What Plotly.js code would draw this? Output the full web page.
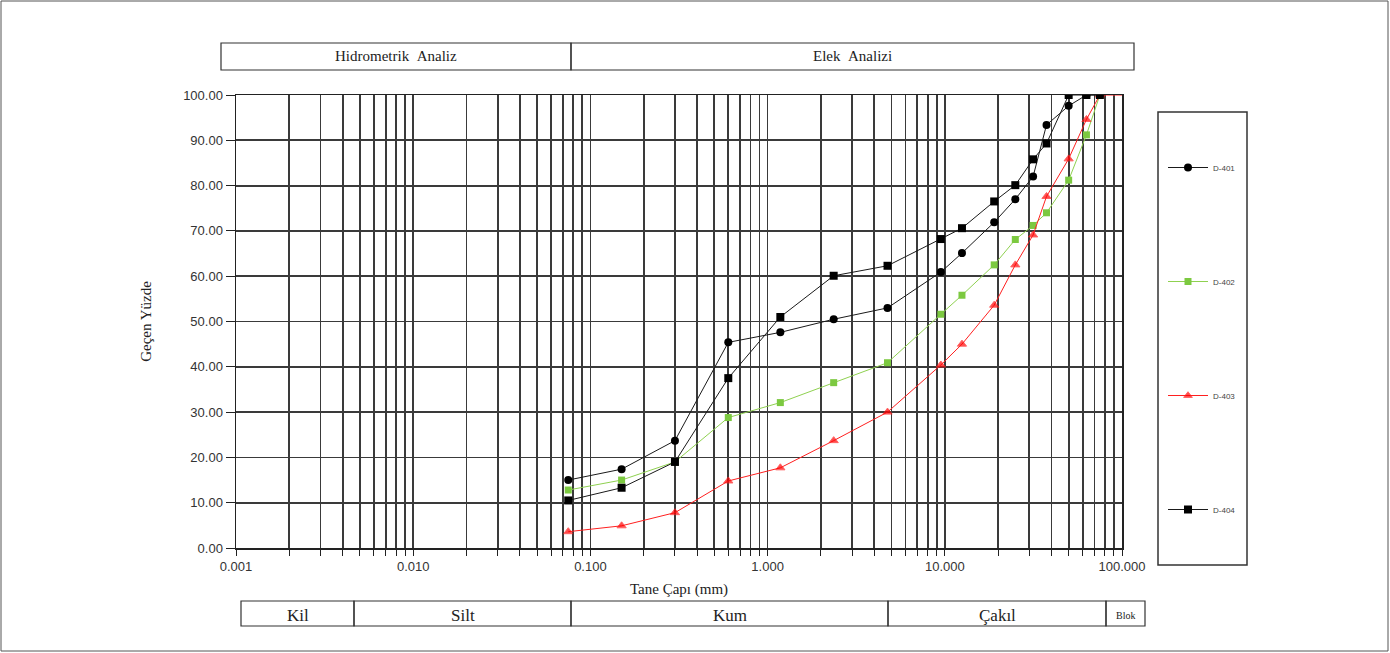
<!DOCTYPE html>
<html><head><meta charset="utf-8">
<script src="https://cdn.plot.ly/plotly-3.0.1.min.js"></script>
<style>html,body{margin:0;padding:0;background:#fff}#c{width:1390px;height:653px}</style>
</head><body><div id="c"></div>
<script>
// ---- data ----
const sieveSizes = [0.075,0.15,0.3,0.6,1.18,2.36,4.75,9.5,12.5,19,25,31.5,37.5,50,63,75];
const d401 = [15.0,17.4,23.7,45.4,47.6,50.5,53.0,60.9,65.1,71.9,77.0,82.0,93.4,97.6,100,100];
const d402 = [12.8,15.0,19.0,28.8,32.1,36.5,40.9,51.6,55.8,62.5,68.1,71.2,74.0,81.2,91.2,100];
const d403 = [3.6,4.9,7.8,14.8,17.7,23.7,30.0,40.4,45.0,53.6,62.5,69.1,77.6,85.9,94.6,100,100];
const d403Sizes = [0.075,0.15,0.3,0.6,1.18,2.36,4.75,9.5,12.5,19,25,31.5,37.5,50,63,75,100];
const d404 = [10.5,13.3,19.0,37.5,51.0,60.1,62.3,68.2,70.6,76.5,80.1,85.8,89.3,100,100,100];
const seriesNames = ["D-401","D-402","D-403","D-404"];
const xTickVals = [0.001,0.01,0.1,1,10,100];
const xTickText = ["0.001","0.010","0.100","1.000","10.000","100.000"];
const topBands = ["Hidrometrik\u00a0\u00a0Analiz","Elek\u00a0\u00a0Analizi"];
const bottomBands = ["Kil","Silt","Kum","Çakıl","Blok"];

// ---- layout helpers (pixel -> paper) ----
const L=236,R=1122,T=95,B=548;
const px = x => (x-L)/(R-L);
const py = y => (B-y)/(B-T);

const serif = "Liberation Serif, Times New Roman, serif";
const sans = "Liberation Sans, Arial, sans-serif";
const gridC = "#3a3a3a";

const traces = [
 {x:sieveSizes,y:d401,name:seriesNames[0],mode:"lines+markers",legendgroup:"a",
  line:{color:"#1a1a1a",width:1},marker:{symbol:"circle",size:8,color:"#000"}},
 {x:sieveSizes,y:d402,name:seriesNames[1],mode:"lines+markers",legendgroup:"b",
  line:{color:"#8fd150",width:1},marker:{symbol:"square",size:7,color:"#7cc940"}},
 {x:d403Sizes,y:d403,name:seriesNames[2],mode:"lines+markers",legendgroup:"c",
  line:{color:"#ff2020",width:1},
  marker:{symbol:"triangle-up",size:d403Sizes.map(v=>v>=100?0:8),color:"#ff0000"}},
 {x:sieveSizes,y:d404,name:seriesNames[3],mode:"lines+markers",legendgroup:"d",
  line:{color:"#1a1a1a",width:1},marker:{symbol:"square",size:8,color:"#000"}}
];

const shapes = [];
const annotations = [];
// outer frame
shapes.push({type:"rect",xref:"paper",yref:"paper",x0:px(1),x1:px(1388),y0:py(651),y1:py(1),line:{color:"#555",width:1}});
// legend box
shapes.push({type:"rect",xref:"paper",yref:"paper",x0:px(1158),x1:px(1247),y0:py(565),y1:py(112),line:{color:"#333",width:1.5}});
// top band boxes
const topEdges=[221,571,1134];
for(let i=0;i<topBands.length;i++){
  shapes.push({type:"rect",xref:"paper",yref:"paper",x0:px(topEdges[i]),x1:px(topEdges[i+1]),y0:py(70),y1:py(43),line:{color:"#333",width:1.2}});
  annotations.push({xref:"paper",yref:"paper",x:px((topEdges[i]+topEdges[i+1])/2),y:py(56.5),text:topBands[i],showarrow:false,
    font:{family:serif,size:15,color:"#222"},xanchor:"center",yanchor:"middle"});
}
// bottom band boxes
const botEdges=[241,354,571,888,1106,1145];
for(let i=0;i<bottomBands.length;i++){
  shapes.push({type:"rect",xref:"paper",yref:"paper",x0:px(botEdges[i]),x1:px(botEdges[i+1]),y0:py(626),y1:py(601),line:{color:"#333",width:1.2}});
  annotations.push({xref:"paper",yref:"paper",x:px((botEdges[i]+botEdges[i+1])/2),y:py(615),text:bottomBands[i],showarrow:false,
    font:{family:serif,size:i===4?10:17,color:"#222"},xanchor:"center",yanchor:"middle"});
}

const layout = {
  width:1390,height:653,
  margin:{l:L,r:1390-R,t:T,b:653-B},
  paper_bgcolor:"#fff",plot_bgcolor:"#fff",
  showlegend:true,
  legend:{x:px(1163),y:py(153),xanchor:"left",yanchor:"top",bgcolor:"rgba(0,0,0,0)",
    font:{family:sans,size:8,color:"#444"},tracegroupgap:95,itemwidth:40,traceorder:"grouped"},
  xaxis:{type:"log",range:[-3,2],tickvals:xTickVals,ticktext:xTickText,
    showline:true,linecolor:"#222",linewidth:1.5,mirror:true,
    ticks:"outside",ticklen:6,tickcolor:"#222",
    showgrid:true,gridcolor:gridC,gridwidth:1.8,zeroline:false,
    minor:{dtick:"D1",showgrid:true,gridcolor:gridC,gridwidth:1.8,ticks:"outside",ticklen:6,tickcolor:"#222"},
    tickfont:{family:sans,size:13,color:"#333"},
    title:{text:"Tane Çapı (mm)",font:{family:serif,size:15,color:"#222"},standoff:10}},
  yaxis:{range:[0,100],dtick:10,tickformat:".2f",
    showline:true,linecolor:"#222",linewidth:1.5,mirror:true,
    ticks:"outside",ticklen:9,tickcolor:"#222",
    showgrid:true,gridcolor:gridC,gridwidth:1.8,zeroline:false,
    tickfont:{family:sans,size:13,color:"#333"},
    title:{text:"Geçen Yüzde",font:{family:serif,size:15,color:"#222"},standoff:28}},
  shapes:shapes,annotations:annotations
};
Plotly.newPlot("c",traces,layout,{displayModeBar:false,staticPlot:true});
</script></body></html>
